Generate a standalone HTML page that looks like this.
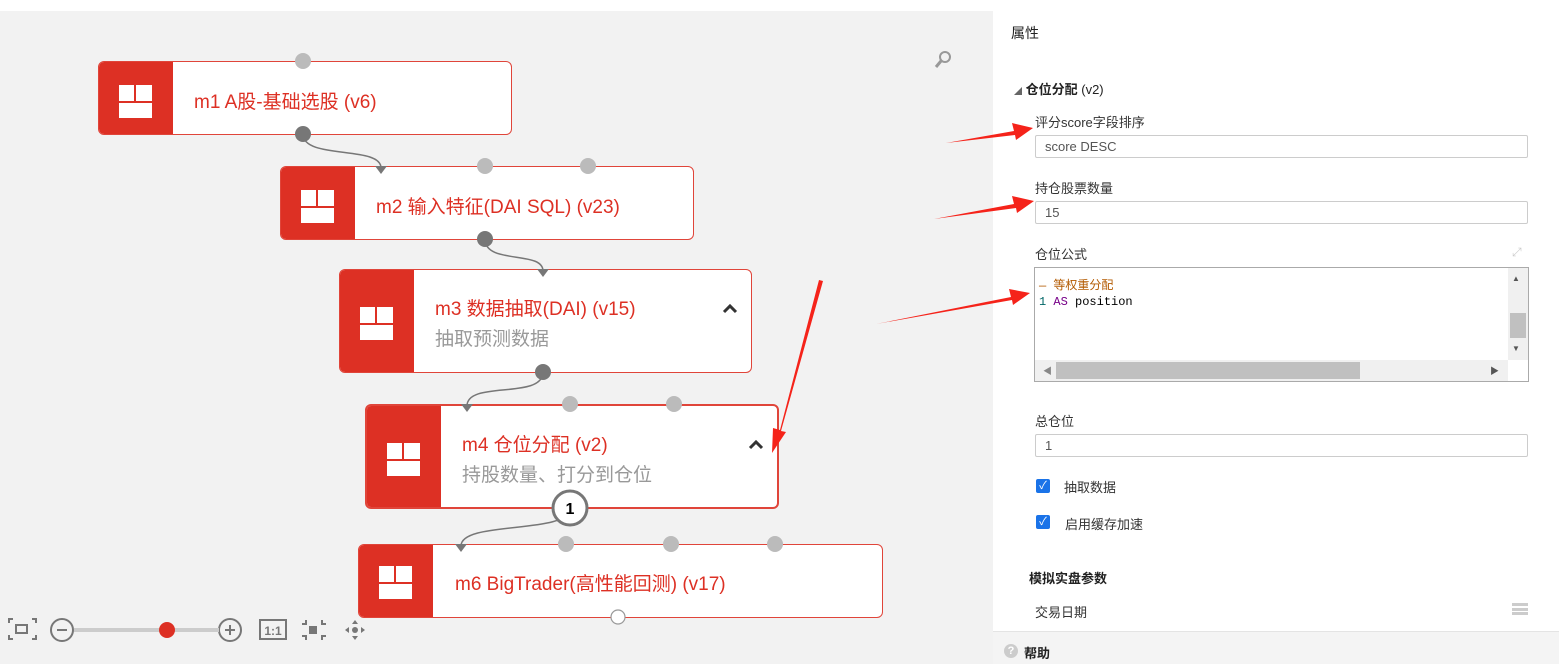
<!DOCTYPE html>
<html><head><meta charset="utf-8"><style>
*{margin:0;padding:0;box-sizing:border-box}
html,body{background:#fff}
body{width:1559px;height:664px;position:relative;overflow:hidden;font-family:"Liberation Sans","Noto Sans CJK SC",sans-serif}
.canvas{position:absolute;left:0;top:11px;width:993px;height:653px;background:#f2f2f2}
.panel{position:absolute;left:993px;top:0;width:566px;height:664px;background:#fff}
.node{position:absolute;background:#fff;border:1.5px solid #e0453a;border-radius:6px;overflow:hidden}
.node .ic{position:absolute;left:0;top:0;bottom:0;width:74px;background:#dd3024}
.node .ic i{position:absolute;left:20px;width:33px;background:#fff}
.node .ic i:before{content:"";position:absolute;left:0;right:0;top:50%;height:2px;margin-top:-1px;background:#dd3024}
.node .ic i:after{content:"";position:absolute;left:15px;width:2px;top:0;height:50%;background:#dd3024}
.t{position:absolute;color:#dd3024;font-size:19px;white-space:nowrap}
.s{position:absolute;color:#999;font-size:19px;white-space:nowrap}
.p{position:absolute;color:#333;font-size:13px;white-space:nowrap}
.inp{position:absolute;left:1035px;width:493px;height:23px;border:1px solid #ccc;border-radius:2px;font-size:13px;color:#555;padding:3px 9px}
.cb{position:absolute;left:1036px;width:14px;height:14px;background:#1a73e8;border-radius:2px;color:#fff;font-size:11px;line-height:14px;text-align:center}
</style></head><body>
<div class="canvas"></div>
<div class="panel"></div>

<div class="node" style="left:98px;top:61px;width:414px;height:74px"><div class="ic"><i style="top:23px;height:33px"></i></div></div>
<div class="t" style="left:194px;top:87px">m1 A股-基础选股 (v6)</div>

<div class="node" style="left:280px;top:166px;width:414px;height:74px"><div class="ic"><i style="top:23px;height:33px"></i></div></div>
<div class="t" style="left:376px;top:192px">m2 输入特征(DAI SQL) (v23)</div>

<div class="node" style="left:339px;top:269px;width:413px;height:104px"><div class="ic"><i style="top:37px;height:33px"></i></div></div>
<div class="t" style="left:435px;top:294px">m3 数据抽取(DAI) (v15)</div>
<div class="s" style="left:435px;top:324px">抽取预测数据</div>

<div class="node" style="left:365px;top:404px;width:414px;height:105px;border-width:2px"><div class="ic"><i style="top:37px;height:33px"></i></div></div>
<div class="t" style="left:462px;top:430px">m4 仓位分配 (v2)</div>
<div class="s" style="left:462px;top:460px">持股数量、打分到仓位</div>

<div class="node" style="left:358px;top:544px;width:525px;height:74px"><div class="ic"><i style="top:21px;height:33px"></i></div></div>
<div class="t" style="left:455px;top:569px">m6 BigTrader(高性能回测) (v17)</div>

<svg style="position:absolute;left:0;top:0" width="1559" height="664">
<g fill="none" stroke="#333" stroke-width="3"><path d="M724 312l6-6 6 6"/><path d="M750 448l6-6 6 6"/></g>
<g fill="none" stroke="#777" stroke-width="1.5">
<path d="M303 134 C303 160,381 145,381 168"/>
<path d="M485 239 C485 265,543 250,543 271"/>
<path d="M543 372 C543 400,467 380,467 406"/>
<path d="M570 508 C570 535,461 520,461 546"/>
</g>
<g fill="#777"><path d="M375 166h12l-6 8z"/><path d="M537 269h12l-6 8z"/><path d="M461 404h12l-6 8z"/><path d="M455 544h12l-6 8z"/></g>
<g fill="#bbb"><circle cx="303" cy="61" r="8"/><circle cx="485" cy="166" r="8"/><circle cx="588" cy="166" r="8"/><circle cx="570" cy="404" r="8"/><circle cx="674" cy="404" r="8"/><circle cx="566" cy="544" r="8"/><circle cx="671" cy="544" r="8"/><circle cx="775" cy="544" r="8"/></g>
<g fill="#777"><circle cx="303" cy="134" r="8"/><circle cx="485" cy="239" r="8"/><circle cx="543" cy="372" r="8"/></g>
<circle cx="570" cy="508" r="17" fill="#fff" stroke="#777" stroke-width="3"/>
<text x="570" y="514" font-size="16" font-weight="bold" text-anchor="middle" font-family="Liberation Sans">1</text>
<circle cx="618" cy="617" r="7" fill="#fff" stroke="#999" stroke-width="1.2"/>
<circle cx="945" cy="57" r="5" fill="none" stroke="#999" stroke-width="2"/><path d="M941 61l-5 6" stroke="#999" stroke-width="3"/>
<g fill="#f5231a">
<path d="M946 143 L1014 131 L1012 123 L1033 128 L1016 140 L1015 135 Z"/>
<path d="M934 219 L1014 204 L1012 196 L1034 201 L1017 213 L1016 208 Z"/>
<path d="M876 324 L1011 297 L1009 289 L1030 293 L1013 305 L1012 300 Z"/>
<path d="M819 280 L780 430 L773 428 L772 453 L786 432 L781 431 L823 281 Z"/>
</g>
<g fill="none" stroke="#777" stroke-width="2">
<path d="M9 623v-4h4M32 619h4v4M36 635v4h-4M13 639h-4v-4"/><rect x="16" y="625" width="11" height="8"/>
<circle cx="62" cy="630" r="11"/><path d="M57 630h10"/>
<circle cx="230" cy="630" r="11"/><path d="M225 630h10M230 625v10"/>
<rect x="260" y="620" width="26" height="19"/>
<path d="M306 620v4h-4M326 624h-4v-4M302 636h4v4M322 640v-4h4"/>
</g>
<path d="M74 630H219" stroke="#ccc" stroke-width="4"/>
<circle cx="167" cy="630" r="8" fill="#dd3024"/>
<text x="273" y="635" font-size="12" font-weight="bold" fill="#777" text-anchor="middle" font-family="Liberation Sans">1:1</text>
<rect x="309" y="626" width="8" height="8" fill="#777"/>
<g fill="#777"><circle cx="355" cy="630" r="3"/><path d="M355 620l-3 4h6zM355 640l-3-4h6zM345 630l4-3v6zM365 630l-4-3v6z"/></g>
</svg>

<div class="p" style="left:1011px;top:23px;font-size:14px;color:#222">属性</div>
<div class="p" style="left:1014px;top:79px;font-weight:bold;color:#222"><span style="font-size:8px;color:#666">◢</span> 仓位分配 <span style="font-weight:normal">(v2)</span></div>
<div class="p" style="left:1035px;top:112px">评分score字段排序</div>
<div class="inp" style="top:135px">score DESC</div>
<div class="p" style="left:1035px;top:178px">持仓股票数量</div>
<div class="inp" style="top:201px">15</div>
<div class="p" style="left:1035px;top:244px">仓位公式</div>
<div style="position:absolute;left:1512px;top:245px;color:#ccc;font-size:12px">⤢</div>
<div style="position:absolute;left:1034px;top:267px;width:495px;height:115px;border:1px solid #aaa;background:#fff">
 <div style="position:absolute;left:4px;top:10px;font-family:'Liberation Mono','Noto Sans CJK SC',monospace;font-size:12px;line-height:16px;white-space:pre"><span style="color:#b35a00">— 等权重分配</span>
<span style="color:#066">1</span> <span style="color:#708">AS</span> position</div>
 <div style="position:absolute;right:0;top:0;width:20px;height:92px;background:#f0f0f0"><div style="position:absolute;left:2px;top:45px;width:16px;height:25px;background:#c0c0c0"></div><div style="position:absolute;left:4px;top:6px;font-size:8px;color:#555">▲</div><div style="position:absolute;left:4px;top:76px;font-size:8px;color:#555">▼</div></div>
 <div style="position:absolute;left:0;top:92px;width:473px;height:21px;background:#f0f0f0"><div style="position:absolute;left:21px;top:2px;width:304px;height:17px;background:#c0c0c0"></div><div style="position:absolute;left:8px;top:4px;font-size:9px;color:#888">◀</div><div style="position:absolute;left:455px;top:4px;font-size:9px;color:#555">▶</div></div>
</div>
<div class="p" style="left:1035px;top:411px">总仓位</div>
<div class="inp" style="top:434px">1</div>
<div class="cb" style="top:479px">✓</div><div class="p" style="left:1064px;top:477px">抽取数据</div>
<div class="cb" style="top:515px">✓</div><div class="p" style="left:1065px;top:514px">启用缓存加速</div>
<div class="p" style="left:1029px;top:568px;font-weight:bold;color:#222">模拟实盘参数</div>
<div class="p" style="left:1035px;top:602px">交易日期</div>
<div style="position:absolute;left:1512px;top:603px;width:16px;height:12px;border-top:3px solid #ccc;border-bottom:3px solid #ccc"><div style="margin-top:2px;height:3px;background:#ccc"></div></div>
<div style="position:absolute;left:993px;top:631px;width:566px;height:33px;background:#f4f4f4;border-top:1px solid #e4e4e4"></div>
<div style="position:absolute;left:1004px;top:644px;width:14px;height:14px;border-radius:50%;background:#ccc;color:#fff;font-size:11px;text-align:center;line-height:14px;font-weight:bold">?</div>
<div class="p" style="left:1024px;top:643px;font-weight:bold;color:#222">帮助</div>
</body></html>
